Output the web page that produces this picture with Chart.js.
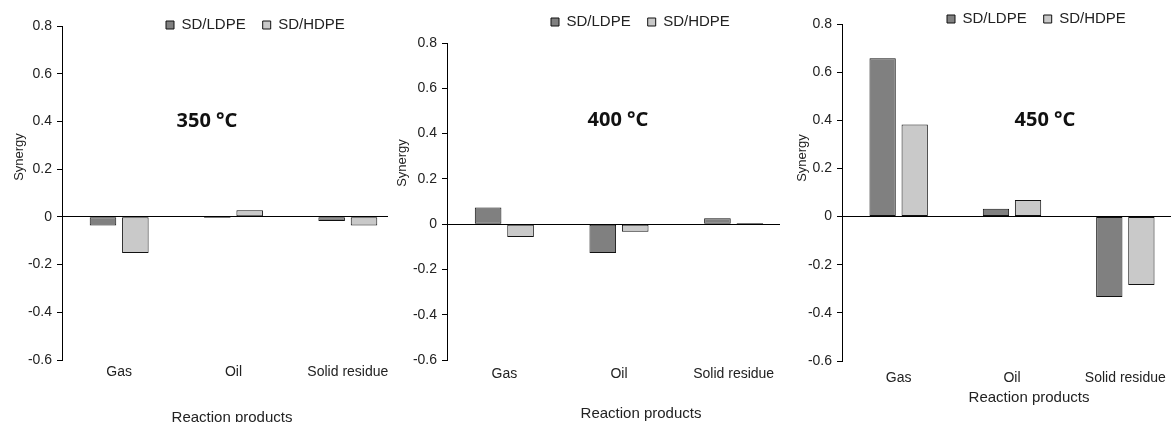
<!DOCTYPE html>
<html>
<head>
<meta charset="utf-8">
<script src="https://cdn.jsdelivr.net/npm/chart.js@4.4.0/dist/chart.umd.min.js"></script>
<style>
  html, body { margin: 0; padding: 0; background: #fff; overflow: hidden; }
  #wrap { position: relative; width: 1171px; height: 422px; overflow: hidden; }
  .panel { position: absolute; top: 0; height: 422px; overflow: hidden; }
  canvas { position: absolute; top: 0; left: 0; }
</style>
</head>
<body>
<div id="wrap"></div>
<script>
// data
const categories = ['Gas', 'Oil', 'Solid residue'];
const seriesNames = ['SD/LDPE', 'SD/HDPE'];
const ldpe350 = [-0.036, -0.005, -0.017];
const hdpe350 = [-0.152, 0.028, -0.036];
const ldpe400 = [0.074, -0.127, 0.026];
const hdpe400 = [-0.057, -0.034, 0.005];
const ldpe450 = [0.658, 0.032, -0.334];
const hdpe450 = [0.383, 0.069, -0.284];
const yMin = -0.6, yMax = 0.8, yStep = 0.2;

const FONT = "'Liberation Sans', Arial, sans-serif";
const TEXT = '#222';
const CANVAS_H = 432;

// layout of each panel (pixels in the page); the plot runs a bit past the
// visible strip on the right, like the cropped original
const panels = [
  { label: '350 °C', ldpe: ldpe350, hdpe: hdpe350, left: 0, clipW: 388, width: 405, axisW: 62,
    top: 26, bottom: 360, legendX: 166, legendY: 25, titleX: 207, titleY: 121,
    tickPad: 4, xTitle: [232, 418], yTitle: [19, 157] },
  { label: '400 °C', ldpe: ldpe400, hdpe: hdpe400, left: 388, clipW: 392, width: 403, axisW: 59,
    top: 43, bottom: 360, legendX: 551, legendY: 22, titleX: 618, titleY: 120,
    tickPad: 6, xTitle: [641, 414], yTitle: [402, 163] },
  { label: '450 °C', ldpe: ldpe450, hdpe: hdpe450, left: 780, clipW: 391, width: 402, axisW: 62,
    top: 24, bottom: 361, legendX: 947, legendY: 19, titleX: 1045, titleY: 120,
    tickPad: 9, xTitle: [1029, 398], yTitle: [802, 158] }
];

const LEGEND_PAD = 17;
const LEGEND_FONT = 15;

// the legend sits over the plot like in the original, so it takes no layout space
// and is moved to its place once the layout is done
const legendPlacer = {
  id: 'legendPlacer',
  beforeLayout(chart) {
    const lg = chart.legend;
    if (lg && !lg._noSpace) {
      const fit = lg.fit.bind(lg);
      lg.fit = function() { fit(); this.height = 0; };
      lg._noSpace = true;
    }
  },
  afterLayout(chart) {
    const p = chart.options.plugins.panelInfo;
    const lg = chart.legend;
    if (!lg) return;
    lg.left = p.legendX - p.left - LEGEND_PAD;
    lg.right = lg.left + 320;
    lg.width = 320;
    lg.top = p.legendY - LEGEND_PAD - LEGEND_FONT / 2;
    lg.height = 60;
    lg.bottom = lg.top + 60;
  }
};

// temperature label and the two axis titles
const panelText = {
  id: 'panelText',
  afterDraw(chart) {
    const p = chart.options.plugins.panelInfo;
    const ctx = chart.ctx;
    ctx.save();
    ctx.textAlign = 'center';
    ctx.textBaseline = 'middle';

    ctx.font = "bold 20px 'Noto Sans', 'DejaVu Sans', sans-serif";
    ctx.fillStyle = '#111';
    ctx.fillText(p.label, p.titleX - p.left, p.titleY);

    ctx.fillStyle = TEXT;
    ctx.font = '15px ' + FONT;
    ctx.fillText('Reaction products', p.xTitle[0] - p.left, p.xTitle[1]);

    ctx.font = '13px ' + FONT;
    ctx.translate(p.yTitle[0] - p.left, p.yTitle[1]);
    ctx.rotate(-Math.PI / 2);
    ctx.fillText('Synergy', 0, 0);
    ctx.restore();
  }
};

function makeChart(p) {
  const box = document.createElement('div');
  box.className = 'panel';
  box.style.left = p.left + 'px';
  box.style.width = p.clipW + 'px';
  const canvas = document.createElement('canvas');
  canvas.width = p.width;
  canvas.height = CANVAS_H;
  canvas.style.width = p.width + 'px';
  canvas.style.height = CANVAS_H + 'px';
  box.appendChild(canvas);
  document.getElementById('wrap').appendChild(box);

  return new Chart(canvas.getContext('2d'), {
    type: 'bar',
    data: {
      labels: categories,
      datasets: [
        { label: seriesNames[0], data: p.ldpe, backgroundColor: '#808080' },
        { label: seriesNames[1], data: p.hdpe, backgroundColor: '#c9c9c9' }
      ].map(d => Object.assign(d, {
        borderColor: '#111',
        borderWidth: 1,
        borderSkipped: false,
        categoryPercentage: 0.566,
        barPercentage: 0.82
      }))
    },
    options: {
      responsive: false,
      animation: false,
      devicePixelRatio: 1,
      layout: { padding: { top: p.top, right: 0, bottom: 0, left: 0 } },
      plugins: {
        panelInfo: p,
        tooltip: { enabled: false },
        legend: {
          position: 'top',
          align: 'start',
          labels: {
            boxWidth: 8,
            boxHeight: 8,
            padding: LEGEND_PAD,
            color: TEXT,
            font: { family: FONT, size: LEGEND_FONT }
          }
        }
      },
      scales: {
        x: {
          grid: { display: false, drawTicks: false },
          border: { display: false },
          ticks: { color: TEXT, padding: p.tickPad, font: { family: FONT, size: 14 } },
          afterFit: s => { s.height = CANVAS_H - p.bottom; }
        },
        y: {
          min: yMin,
          max: yMax,
          ticks: {
            stepSize: yStep,
            color: TEXT,
            padding: 5,
            font: { family: FONT, size: 14 },
            callback: v => {
              const r = Math.round(v * 10) / 10;
              return r === 0 ? '0' : String(r);
            }
          },
          grid: {
            color: c => (c.tick && Math.abs(c.tick.value) < 1e-9) ? '#000' : 'rgba(0,0,0,0)',
            tickColor: '#000',
            tickLength: 5,
            lineWidth: 1
          },
          border: { display: true, color: '#000', width: 1 },
          afterFit: s => { s.width = p.axisW; }
        }
      }
    },
    plugins: [legendPlacer, panelText]
  });
}

panels.forEach(makeChart);
</script>
</body>
</html>
